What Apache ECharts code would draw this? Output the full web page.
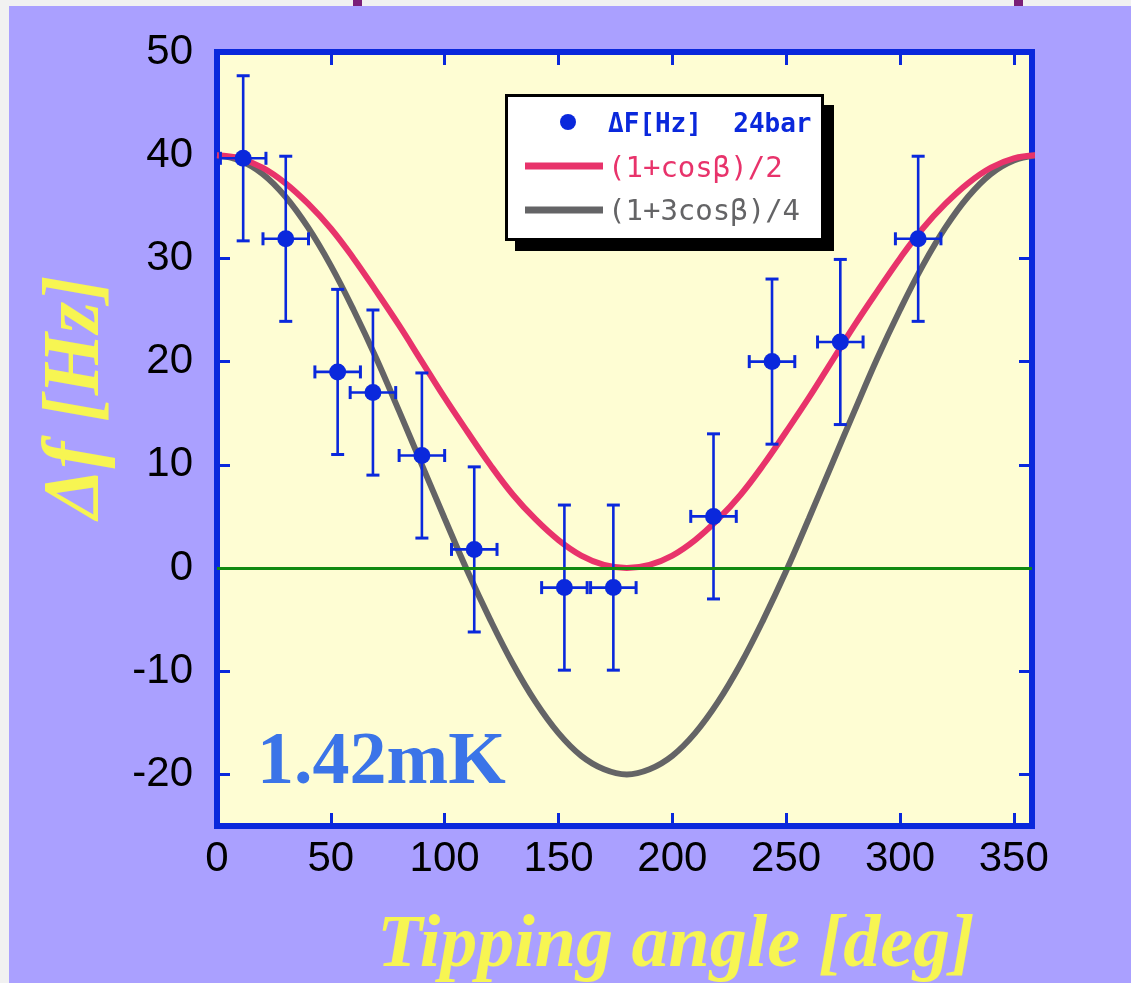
<!DOCTYPE html>
<html>
<head>
<meta charset="utf-8">
<script src="https://cdn.jsdelivr.net/npm/echarts@6/dist/echarts.min.js"></script>
<style>html,body{margin:0;padding:0;background:#aaa0ff;}#c{width:1131px;height:983px;}</style>
</head>
<body>
<div id="c"></div>
<script>
// ---- data ----
const xTicks = [0, 50, 100, 150, 200, 250, 300, 350];
const yTicks = [-20, -10, 0, 10, 20, 30, 40, 50];
const angle  = [11.5, 30.2, 53, 68.5, 90, 113, 152.6, 174.1, 218.1, 243.8, 273.8, 308];
const deltaF = [39.7, 31.9, 19.0, 17.0, 10.9, 1.8, -1.9, -1.9, 5.0, 20.0, 21.9, 31.9];
const xErr   = [10, 10, 10, 10, 10, 10, 10, 10, 10, 10, 10, 10];
const yErr   = [8, 8, 8, 8, 8, 8, 8, 8, 8, 8, 8, 8];
// theoretical curves, read every 10 deg
const curveX = [0,10,20,30,40,50,60,70,80,90,100,110,120,130,140,150,160,170,180,
                190,200,210,220,230,240,250,260,270,280,290,300,310,320,330,340,350,360];
const curveHalf = [40,39.7,38.8,37.3,35.3,32.9,30,26.8,23.5,20,16.5,13.2,10,7.1,4.7,2.7,1.2,0.3,0,
                   0.3,1.2,2.7,4.7,7.1,10,13.2,16.5,20,23.5,26.8,30,32.9,35.3,37.3,38.8,39.7,40];
const curveQuarter = [40,39.5,38.2,36,33,29.3,25,20.3,15.2,10,4.8,-0.3,-5,-9.3,-13,-16,-18.2,-19.5,-20,
                      -19.5,-18.2,-16,-13,-9.3,-5,-0.3,4.8,10,15.2,20.3,25,29.3,33,36,38.2,39.5,40];
const legendNames = ['\u0394F[Hz]  24bar', '(1+cos\u03b2)/2', '(1+3cos\u03b2)/4'];
const tempLabel = '1.42mK';
const xTitle = 'Tipping angle [deg]';
const yTitle = '\u0394f [Hz]';

const BLUE = '#0a28dc', RED = '#e8336b', GRAY = '#646466', YEL = '#f7f552';
const chart = echarts.init(document.getElementById('c'), null, {renderer: 'canvas'});

const tickCommon = {inside: true, length: 13, lineStyle: {color: BLUE, width: 3}};
const labelCommon = {color: '#000', fontSize: 42, fontFamily: 'Liberation Sans'};
const noLine = {show: false, onZero: false};

const errData = angle.map((a, i) => [a, deltaF[i], xErr[i], yErr[i]]);

const option = {
  animation: false,
  backgroundColor: '#aaa0ff',
  grid: {left: 217, top: 52, right: 99, bottom: 157, show: true,
         backgroundColor: '#fefdd3', borderColor: BLUE, borderWidth: 6},
  xAxis: [
    {type: 'value', min: 0, max: 358, position: 'bottom',
     axisLine: noLine, splitLine: {show: false},
     axisTick: Object.assign({customValues: xTicks}, tickCommon),
     axisLabel: Object.assign({customValues: xTicks, margin: 12}, labelCommon)},
    {type: 'value', min: 0, max: 358, position: 'top',
     axisLine: noLine, splitLine: {show: false},
     axisTick: Object.assign({customValues: xTicks}, tickCommon),
     axisLabel: {show: false}}
  ],
  yAxis: [
    {type: 'value', min: -25, max: 50, position: 'left',
     axisLine: noLine, splitLine: {show: false},
     axisTick: Object.assign({customValues: yTicks}, tickCommon),
     axisLabel: Object.assign({customValues: yTicks, margin: 24, padding: [0, 0, 18, 0]}, labelCommon)},
    {type: 'value', min: -25, max: 50, position: 'right',
     axisLine: noLine, splitLine: {show: false},
     axisTick: Object.assign({customValues: yTicks}, tickCommon),
     axisLabel: {show: false}}
  ],
  series: [
    {type: 'line', name: legendNames[2], data: curveX.map((x, i) => [x, curveQuarter[i]]),
     smooth: 0.4, showSymbol: false, lineStyle: {color: GRAY, width: 6}, clip: true, z: 2,
     markLine: {silent: true, symbol: 'none', label: {show: false},
                lineStyle: {color: '#118a11', width: 3, type: 'solid'}, data: [{yAxis: 0}]}},
    {type: 'line', name: legendNames[1], data: curveX.map((x, i) => [x, curveHalf[i]]),
     smooth: 0.4, showSymbol: false, lineStyle: {color: RED, width: 6}, clip: true, z: 3},
    {type: 'custom', name: 'err', data: errData, encode: {x: 0, y: 1}, z: 4, clip: true,
     renderItem: function (params, api) {
       const x = api.value(0), y = api.value(1), ex = api.value(2), ey = api.value(3);
       const l = api.coord([x - ex, y]), r = api.coord([x + ex, y]);
       const t = api.coord([x, y + ey]), b = api.coord([x, y - ey]);
       const cw = 6.5;
       const ln = (x1, y1, x2, y2, w) => ({type: 'line', shape: {x1, y1, x2, y2},
                                          style: {stroke: BLUE, lineWidth: w || 2.6}});
       return {type: 'group', children: [
         ln(l[0], l[1], r[0], r[1]),
         ln(t[0], t[1], b[0], b[1]),
         ln(t[0] - cw, t[1], t[0] + cw, t[1], 3),
         ln(b[0] - cw, b[1], b[0] + cw, b[1], 3),
         ln(l[0], l[1] - cw, l[0], l[1] + cw, 3),
         ln(r[0], r[1] - cw, r[0], r[1] + cw, 3)
       ]};
     }},
    {type: 'scatter', name: legendNames[0], data: angle.map((a, i) => [a, deltaF[i]]),
     symbol: 'circle', symbolSize: 17, itemStyle: {color: BLUE, opacity: 1}, z: 5}
  ],
  graphic: [
    {type: 'rect', z: 100, shape: {x: 0, y: 0, width: 9, height: 983}, style: {fill: '#f1f1f1'}},
    {type: 'rect', z: 100, shape: {x: 0, y: 0, width: 1131, height: 6}, style: {fill: '#f1f1f1'}},
    {type: 'rect', z: 101, shape: {x: 353, y: 0, width: 9, height: 6}, style: {fill: '#7b1f78'}},
    {type: 'rect', z: 101, shape: {x: 1014, y: 0, width: 9, height: 6}, style: {fill: '#7b1f78'}},
    // legend box
    {type: 'rect', z: 100, shape: {x: 515, y: 105, width: 319, height: 146}, style: {fill: '#000'}},
    {type: 'rect', z: 101, shape: {x: 506.5, y: 95.5, width: 316, height: 144},
     style: {fill: '#fff', stroke: '#000', lineWidth: 3}},
    {type: 'circle', z: 102, shape: {cx: 568, cy: 122, r: 8}, style: {fill: BLUE}},
    {type: 'text', z: 102, x: 608, y: 125,
     style: {text: legendNames[0], font: 'bold 26px "DejaVu Sans Mono"', fill: BLUE,
             align: 'left', verticalAlign: 'middle', textAlign: 'left', textVerticalAlign: 'middle'}},
    {type: 'line', z: 102, shape: {x1: 525, y1: 166, x2: 603, y2: 166}, style: {stroke: RED, lineWidth: 7}},
    {type: 'text', z: 102, x: 608, y: 169,
     style: {text: legendNames[1], font: '29px "DejaVu Sans Mono"', fill: RED,
             align: 'left', verticalAlign: 'middle', textAlign: 'left', textVerticalAlign: 'middle'}},
    {type: 'line', z: 102, shape: {x1: 525, y1: 210, x2: 603, y2: 210}, style: {stroke: GRAY, lineWidth: 7}},
    {type: 'text', z: 102, x: 608, y: 212,
     style: {text: legendNames[2], font: '29px "DejaVu Sans Mono"', fill: GRAY,
             align: 'left', verticalAlign: 'middle', textAlign: 'left', textVerticalAlign: 'middle'}},
    // labels
    {type: 'text', z: 102, x: 257, y: 764,
     style: {text: tempLabel, font: 'bold 74px "Liberation Serif"', fill: '#3b74e8',
             align: 'left', verticalAlign: 'middle', textAlign: 'left', textVerticalAlign: 'middle'}},
    {type: 'text', z: 102, x: 676, y: 947,
     style: {text: xTitle, font: 'italic bold 74px "Liberation Serif"', fill: YEL,
             align: 'center', verticalAlign: 'middle', textAlign: 'center', textVerticalAlign: 'middle'}},
    {type: 'text', z: 102, x: 77, y: 397, rotation: Math.PI / 2,
     style: {text: yTitle, font: 'italic bold 80px "Liberation Serif"', fill: YEL,
             align: 'center', verticalAlign: 'middle', textAlign: 'center', textVerticalAlign: 'middle'}}
  ]
};
chart.setOption(option);
</script>
</body>
</html>
